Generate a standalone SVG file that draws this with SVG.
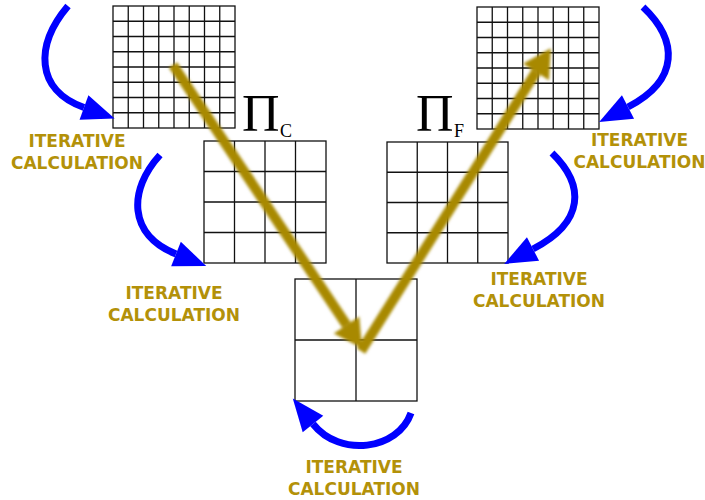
<svg xmlns="http://www.w3.org/2000/svg" width="705" height="500" viewBox="0 0 705 500">
<style>
.grid{fill:#fff;stroke:#111;stroke-width:1.3}
.gl{fill:none;stroke:#111;stroke-width:1.3}
.blue{fill:none;stroke:#0000ff;stroke-width:7;marker-end:url(#bh)}
.gold{fill:none;stroke:#a88904;stroke-width:10;filter:url(#blur)}
.lbl{font-family:"DejaVu Sans",Verdana,sans-serif;font-weight:bold;font-size:17px;fill:#b39109;text-anchor:middle}
.pi{font-family:"Liberation Serif","Times New Roman",serif;fill:#000}
</style>
<defs>
<marker id="bh" markerUnits="userSpaceOnUse" markerWidth="40" markerHeight="40" viewBox="-2 -15 32 30" refX="0" refY="0" orient="auto" overflow="visible">
<path d="M0,-10.5 L26,0 L0,10.5 z" fill="#0000ff"/>
</marker>
<marker id="ghA" markerUnits="userSpaceOnUse" markerWidth="40" markerHeight="40" viewBox="-2 -15 30 30" refX="0" refY="0" orient="auto" overflow="visible">
<path d="M0,-11.5 L21,0 L0,11.5 z" fill="#a88904"/>
</marker>
<filter id="blur" x="-20%" y="-20%" width="140%" height="140%">
<feGaussianBlur stdDeviation="1.6"/>
</filter>
</defs>

<g id="grid-top-left">
<rect class="grid" x="113" y="6" width="122" height="122"/>
<path class="gl" d="M128.25 6V128M143.5 6V128M158.75 6V128M174 6V128M189.25 6V128M204.5 6V128M219.75 6V128M113 21.25H235M113 36.5H235M113 51.75H235M113 67H235M113 82.25H235M113 97.5H235M113 112.75H235"/>
</g>
<g id="grid-top-right">
<rect class="grid" x="477" y="7" width="122" height="122"/>
<path class="gl" d="M492.25 7V129M507.5 7V129M522.75 7V129M538 7V129M553.25 7V129M568.5 7V129M583.75 7V129M477 22.25H599M477 37.5H599M477 52.75H599M477 68H599M477 83.25H599M477 98.5H599M477 113.75H599"/>
</g>
<g id="grid-mid-left">
<rect class="grid" x="204" y="141" width="122" height="122"/>
<path class="gl" d="M234.5 141V263M265 141V263M295.5 141V263M204 171.5H326M204 202H326M204 232.5H326"/>
</g>
<g id="grid-mid-right">
<rect class="grid" x="387" y="142" width="121" height="121"/>
<path class="gl" d="M417.25 142V263M447.5 142V263M477.75 142V263M387 172.25H508M387 202.5H508M387 232.75H508"/>
</g>
<g id="grid-bottom">
<rect class="grid" x="295" y="279" width="122" height="122"/>
<path class="gl" d="M356 279V401M295 340H417"/>
</g>

<g id="label-pi-c">
<text class="pi" x="242" y="131" font-size="52">Π</text>
<text class="pi" x="280" y="137" font-size="18">C</text>
</g>
<g id="label-pi-f">
<text class="pi" x="416" y="131" font-size="52">Π</text>
<text class="pi" x="454" y="137" font-size="18">F</text>
</g>

<g id="connectors">
<path class="blue" d="M68 6 C35 45, 35 90, 84 107.5"/>
<path class="blue" d="M160 155 C128 190, 128 235, 176 254"/>
<path class="blue" d="M411 413 C398 450, 340 458, 313 424"/>
<path class="blue" d="M552 153 C585 185, 585 222, 533 249"/>
<path class="blue" d="M643 7 C678 40, 680 80, 628 107"/>
<g class="gold">
<path d="M173 65 L346.5 325" marker-end="url(#ghA)"/>
<path d="M361 351 L536 72" marker-end="url(#ghA)"/>
</g>
</g>

<g id="label-iter-1">
<text class="lbl" x="77" y="147">ITERATIVE</text>
<text class="lbl" x="77" y="169">CALCULATION</text>
</g>
<g id="label-iter-2">
<text class="lbl" x="174" y="299">ITERATIVE</text>
<text class="lbl" x="174" y="321">CALCULATION</text>
</g>
<g id="label-iter-3">
<text class="lbl" x="354" y="473">ITERATIVE</text>
<text class="lbl" x="354" y="495">CALCULATION</text>
</g>
<g id="label-iter-4">
<text class="lbl" x="639.5" y="146">ITERATIVE</text>
<text class="lbl" x="639.5" y="168">CALCULATION</text>
</g>
<g id="label-iter-5">
<text class="lbl" x="539" y="285">ITERATIVE</text>
<text class="lbl" x="539" y="307">CALCULATION</text>
</g>
</svg>
